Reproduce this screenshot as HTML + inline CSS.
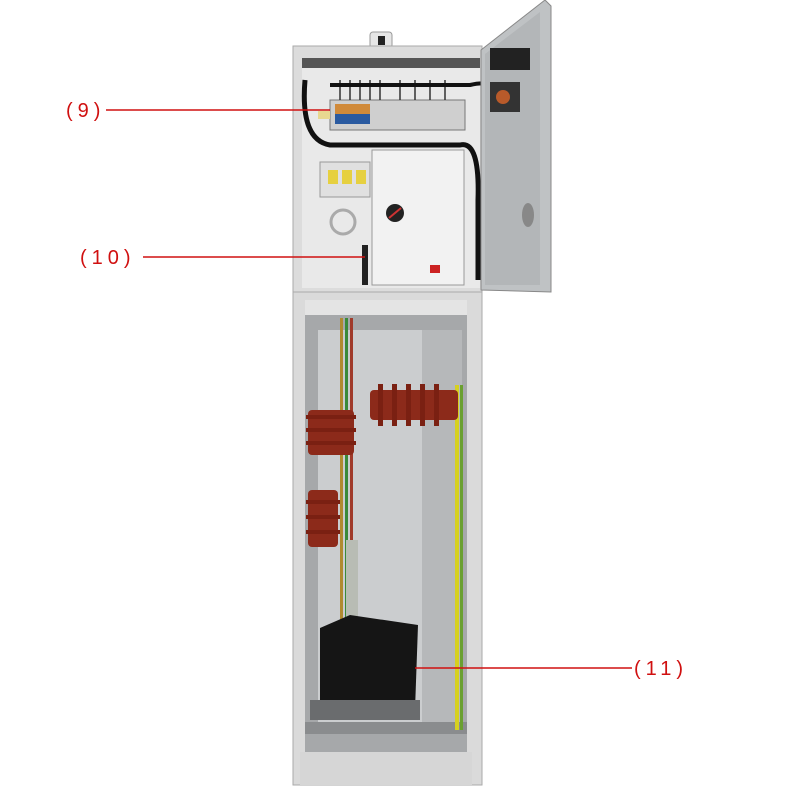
<!DOCTYPE html>
<html><head><style>body{margin:0;background:#fff}svg{display:block}</style></head>
<body>
<svg width="800" height="800" viewBox="0 0 800 800" xmlns="http://www.w3.org/2000/svg">
<rect width="800" height="800" fill="#fff"/>
<rect x="370" y="32" width="22" height="16" rx="3" fill="#e6e6e6" stroke="#999"/>
<rect x="378" y="36" width="7" height="9" fill="#222"/>
<rect x="293" y="46" width="189" height="246" fill="#dcdcdc" stroke="#aaa"/>
<rect x="302" y="58" width="178" height="230" fill="#e9e9e9"/>
<rect x="302" y="58" width="178" height="10" fill="#555"/>
<rect x="330" y="100" width="135" height="30" fill="#cfcfcf" stroke="#777"/>
<rect x="335" y="104" width="35" height="10" fill="#d08a3a"/>
<rect x="335" y="114" width="35" height="10" fill="#2a5aa0"/>
<rect x="318" y="111" width="12" height="8" fill="#e8d890"/>
<g stroke="#333" stroke-width="1.5">
<line x1="340" y1="80" x2="340" y2="100"/><line x1="350" y1="80" x2="350" y2="100"/><line x1="360" y1="80" x2="360" y2="100"/><line x1="370" y1="80" x2="370" y2="100"/><line x1="380" y1="80" x2="380" y2="100"/><line x1="400" y1="80" x2="400" y2="100"/><line x1="415" y1="80" x2="415" y2="100"/><line x1="430" y1="80" x2="430" y2="100"/><line x1="445" y1="80" x2="445" y2="100"/>
</g>
<path d="M305 80 Q300 140 330 145 L460 145 Q480 140 478 200 L478 280" stroke="#111" stroke-width="5" fill="none"/>
<path d="M330 85 L470 85 Q490 80 500 90" stroke="#111" stroke-width="4" fill="none"/>
<rect x="372" y="150" width="92" height="135" fill="#f2f2f2" stroke="#999"/>
<circle cx="395" cy="213" r="9" fill="#222"/>
<line x1="389" y1="218" x2="401" y2="208" stroke="#c33" stroke-width="2"/>
<rect x="430" y="265" width="10" height="8" fill="#c22"/>
<rect x="320" y="162" width="50" height="35" fill="#e0e0e0" stroke="#999"/>
<rect x="328" y="170" width="10" height="14" fill="#e6d040"/><rect x="342" y="170" width="10" height="14" fill="#e6d040"/><rect x="356" y="170" width="10" height="14" fill="#e6d040"/>
<circle cx="343" cy="222" r="12" fill="none" stroke="#aaa" stroke-width="3"/>
<rect x="362" y="245" width="6" height="40" fill="#222"/>
<polygon points="481,50 545,0 551,6 551,292 481,290" fill="#bfc2c4" stroke="#888"/>
<polygon points="485,54 540,12 540,285 485,285" fill="#b3b6b8"/>
<rect x="490" y="48" width="40" height="22" fill="#222"/>
<rect x="490" y="82" width="30" height="30" fill="#333"/>
<circle cx="503" cy="97" r="7" fill="#b85a2a"/>
<ellipse cx="528" cy="215" rx="6" ry="12" fill="#888"/>
<rect x="293" y="292" width="189" height="493" fill="#dadada" stroke="#aaa"/>
<rect x="305" y="315" width="162" height="437" fill="#a6a8aa"/>
<rect x="318" y="330" width="104" height="400" fill="#cbcdcf"/>
<rect x="422" y="330" width="40" height="395" fill="#b6b8ba"/>
<rect x="305" y="300" width="162" height="15" fill="#e4e4e4"/>
<rect x="305" y="722" width="162" height="12" fill="#8a8c8e"/>
<rect x="300" y="752" width="172" height="33" fill="#d6d6d6"/>
<rect x="340" y="318" width="3" height="320" fill="#b08a30"/>
<rect x="345" y="318" width="3" height="320" fill="#3a8a3a"/>
<rect x="350" y="318" width="3" height="320" fill="#a03a2a"/>
<rect x="455" y="385" width="4" height="345" fill="#d6d020"/>
<rect x="460" y="385" width="3" height="345" fill="#6aa030"/>
<rect x="370" y="390" width="88" height="30" rx="4" fill="#8c2a1a"/>
<g fill="#7a2012"><rect x="378" y="384" width="5" height="42"/><rect x="392" y="384" width="5" height="42"/><rect x="406" y="384" width="5" height="42"/><rect x="420" y="384" width="5" height="42"/><rect x="434" y="384" width="5" height="42"/></g>
<rect x="308" y="410" width="46" height="45" rx="4" fill="#8c2a1a"/>
<g fill="#7a2012"><rect x="306" y="415" width="50" height="4"/><rect x="306" y="428" width="50" height="4"/><rect x="306" y="441" width="50" height="4"/></g>
<rect x="308" y="490" width="30" height="57" rx="4" fill="#8c2a1a"/>
<g fill="#7a2012"><rect x="306" y="500" width="34" height="4"/><rect x="306" y="515" width="34" height="4"/><rect x="306" y="530" width="34" height="4"/></g>
<rect x="346" y="540" width="12" height="80" fill="#b8bcb4"/>
<polygon points="320,628 350,615 418,625 415,710 320,705" fill="#151515"/>
<rect x="310" y="700" width="110" height="20" fill="#6a6c6e"/>
<g stroke="#d01010" stroke-width="1.5">
<line x1="106" y1="110" x2="330" y2="110"/>
<line x1="143" y1="257" x2="365" y2="257"/>
<line x1="415" y1="668" x2="632" y2="668"/>
</g>
<g font-family="Liberation Sans, sans-serif" font-size="20" fill="#d01010" letter-spacing="5">
<text x="66" y="117">(9)</text>
<text x="80" y="264">(10)</text>
<text x="634" y="675">(11)</text>
</g>
</svg>
</body></html>
